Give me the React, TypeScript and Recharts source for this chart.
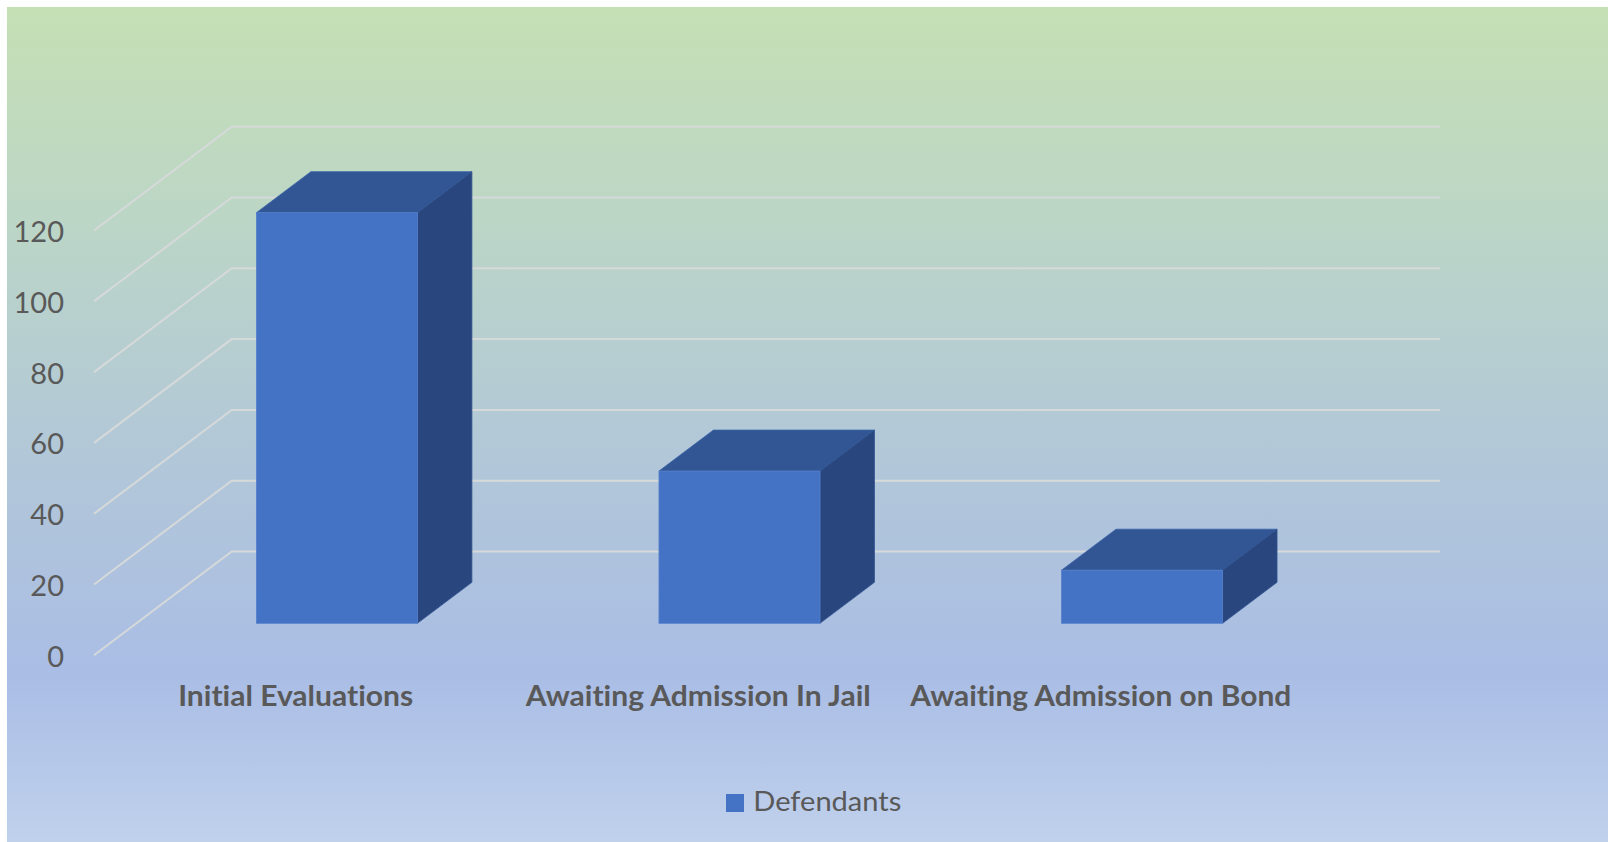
import React from 'react';
import { BarChart, Bar, XAxis, YAxis, CartesianGrid, Legend } from 'recharts';

const categories = ['Initial Evaluations', 'Awaiting Admission In Jail', 'Awaiting Admission on Bond'];
const defendants = [116, 43, 15];
const yTicks = [0, 20, 40, 60, 80, 100, 120];
const seriesName = 'Defendants';

const data = categories.map((c, i) => ({ name: c, value: defendants[i] }));

const FRONT = '#4472C4';
const TOP = '#325694';
const SIDE = '#29477E';
const TEXT = '#595959';
const GRID = '#D6D9DA';
const DX = 54.5;
const DY = 41;
const FONT = 'Lato, "Open Sans", sans-serif';
const labelWidths = [235, 345, 381];
const noLig = { fontVariantLigatures: 'none' as const, fontFeatureSettings: '"liga" 0, "clig" 0' };

const Bar3D = (props: any) => {
  const { x, y, width, height } = props;
  if (height == null || width == null) return null;
  return (
    <g>
      <polygon
        points={`${x},${y} ${x + DX},${y - DY} ${x + width + DX},${y - DY} ${x + width},${y}`}
        fill={TOP}
        stroke="#3A62A8"
        strokeWidth={0.8}
      />
      <polygon
        points={`${x + width},${y} ${x + width + DX},${y - DY} ${x + width + DX},${y + height - DY} ${x + width},${y + height}`}
        fill={SIDE}
        stroke="#31548F"
        strokeWidth={0.8}
      />
      <rect x={x} y={y} width={width} height={height} fill={FRONT} stroke="#5580CC" strokeWidth={0.8} />
    </g>
  );
};

const YTick = (props: any) => {
  const { y, payload } = props;
  return (
    <text x={64} y={y + 43.5} textAnchor="end" fill={TEXT} fontFamily={FONT} fontSize={29}>
      {payload.value}
    </text>
  );
};

const XTick = (props: any) => {
  const { x, payload, index } = props;
  return (
    <text
      x={x - 41}
      y={706}
      textAnchor="middle"
      fill={TEXT}
      fontFamily={FONT}
      fontWeight="bold"
      fontSize={29}
      textLength={labelWidths[index]}
      lengthAdjust="spacingAndGlyphs"
      style={noLig}
    >
      {payload.value}
    </text>
  );
};

const gridLine = (props: any) => {
  const y = props.y1;
  const d = `M94,${y + 32} L231.7,${y - 71.8} L1440,${y - 71.8}`;
  return <path key={`grid-${props.index}-${y}`} d={d} fill="none" stroke={GRID} strokeWidth={2} />;
};

const LegendContent = () => (
  <svg width={200} height={40} style={{ display: 'block' }}>
    <rect x={6} y={14} width={18} height={18} fill={FRONT} />
    <text x={33.3} y={30.7} fill={TEXT} fontFamily={FONT} fontSize={26} textLength={148} lengthAdjust="spacingAndGlyphs" style={noLig}>
      {seriesName}
    </text>
  </svg>
);

export default function App() {
  return (
    <div style={{ position: 'absolute', left: 0, top: 0, width: 1608, height: 842, background: '#ffffff', overflow: 'hidden' }}>
      <div
        style={{
          position: 'absolute',
          left: 7,
          top: 7,
          right: 0,
          bottom: 0,
          background: 'linear-gradient(180deg, #C5E0B4 0%, #BCD6C6 25%, #B3C9D6 50%, #AABDE5 80%, #C0D1EC 100%)',
        }}
      />
      <div style={{ position: 'absolute', left: 0, top: 0 }}>
        <BarChart
          width={1608}
          height={842}
          data={data}
          margin={{ top: 198.5, right: 264.9, bottom: 158.7, left: 35.4 }}
          barSize={161}
        >
          <CartesianGrid vertical={false} horizontal={gridLine} />
          <XAxis dataKey="name" height={60} axisLine={false} tickLine={false} tick={<XTick />} interval={0} />
          <YAxis
            width={100}
            domain={[0, 120]}
            ticks={yTicks}
            axisLine={false}
            tickLine={false}
            tick={<YTick />}
          />
          <Legend
            layout="horizontal"
            verticalAlign="middle"
            align="center"
            content={<LegendContent />}
            wrapperStyle={{ position: 'absolute', left: 720, top: 780, width: 200, height: 40 }}
          />
          <Bar dataKey="value" name={seriesName} shape={<Bar3D />} isAnimationActive={false} />
        </BarChart>
      </div>
    </div>
  );
}
